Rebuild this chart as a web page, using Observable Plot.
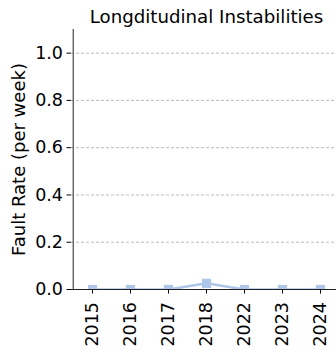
<!DOCTYPE html>
<html>
<head>
<meta charset="utf-8">
<script src="https://cdn.jsdelivr.net/npm/d3@7"></script>
<script src="https://cdn.jsdelivr.net/npm/@observablehq/plot@0.6"></script>
<style>
  html, body { margin: 0; padding: 0; background: #fff; }
  svg { display: block; }
</style>
</head>
<body>
<div id="chart"></div>
<script>
// Weekly fault rate for longitudinal instabilities, by year
const years = ["2015", "2016", "2017", "2018", "2022", "2023", "2024"];
const faultRate = [0, 0, 0, 0.026, 0, 0, 0];
const yTicks = [0, 0.2, 0.4, 0.6, 0.8, 1.0];

const data = years.map((year, i) => ({year, rate: faultRate[i]}));

const font = "DejaVu Sans";
const color = "#aec7e8";

const chart = Plot.plot({
  width: 336,
  height: 352,
  marginTop: 29,
  marginBottom: 63,
  marginLeft: 71,
  marginRight: -5,
  style: {fontFamily: font, fontSize: "17px", color: "#000", background: "#fff"},
  x: {type: "point", domain: years, padding: 0.5, range: [71, 341]},
  y: {domain: [0, 1.1]},
  marks: [
    Plot.gridY(yTicks.filter(d => d > 0), {stroke: "#aaa", strokeOpacity: 1, strokeWidth: 0.8, strokeDasharray: "3,2"}),
    Plot.line(data, {x: "year", y: "rate", stroke: color, strokeWidth: 2.5, clip: true}),
    Plot.dot(data, {x: "year", y: "rate", symbol: "square", r: 5.2, fill: color, stroke: "none", clip: true}),
    Plot.ruleY([0], {stroke: "#222", strokeWidth: 1}),
    Plot.ruleX([years[0]], {dx: -19.3, stroke: "#222", strokeWidth: 1, y1: 0, y2: 1.1}),
    Plot.axisY({ticks: yTicks, tickFormat: d3.format(".1f"), tickSize: 4.5, tickPadding: 4, fontSize: 17.5, label: null}),
    Plot.axisX({tickSize: 4.5, tickPadding: 8, tickRotate: -90, fontSize: 17.5, label: null}),
    Plot.text(["Fault Rate (per week)"], {frameAnchor: "left", dx: -52, rotate: -90, textAnchor: "middle", fontSize: 18}),
    Plot.text(["Longditudinal Instabilities"], {frameAnchor: "top", lineAnchor: "middle", dy: -12.2, fontSize: 18.2})
  ]
});

document.getElementById("chart").appendChild(chart);
</script>
</body>
</html>
